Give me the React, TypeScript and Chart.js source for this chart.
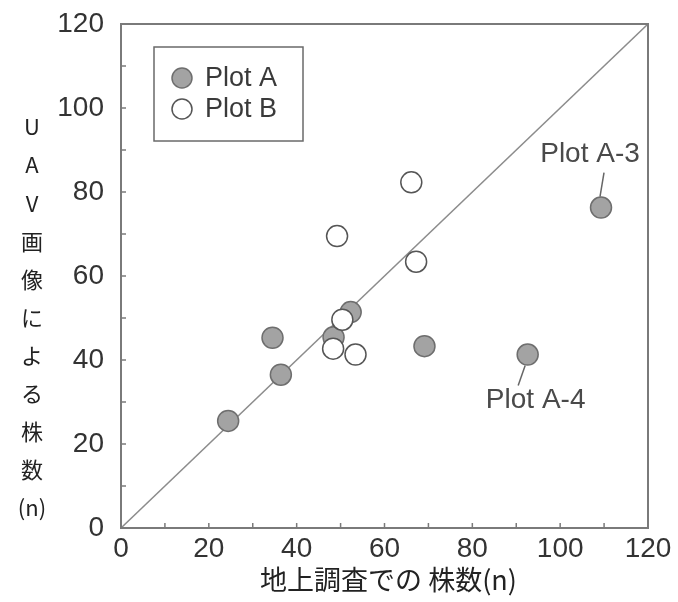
import { useEffect, useRef } from 'react';
import { Chart, registerables } from 'chart.js';

Chart.register(...registerables);

// ---- data ----
const seriesALabel = 'Plot A';
const seriesAX = [24.4, 36.4, 34.5, 48.4, 52.3, 69.1, 92.6, 109.3];
const seriesAY = [25.5, 36.5, 45.3, 45.4, 51.4, 43.3, 41.3, 76.3];

const seriesBLabel = 'Plot B';
const seriesBX = [66.1, 49.2, 67.2, 50.4, 48.3, 53.4];
const seriesBY = [82.3, 69.5, 63.4, 49.6, 42.7, 41.3];

const diagonalX = [0, 120];
const diagonalY = [0, 120];

const axisMin = 0;
const axisMax = 120;
const tickStep = 10;
const labelStep = 20;

const xTitle = '地上調査での 株数(n)';
const yTitleChars = ['U', 'A', 'V', '画', '像', 'に', 'よ', 'る', '株', '数', '(n)'];

const annotatedIndices = [7, 6];
const annotatedTexts = ['Plot A-3', 'Plot A-4'];

const FONT = '"Liberation Sans", Arial, Helvetica, sans-serif';
const CJK = '"Noto Sans CJK JP", "Noto Sans CJK SC", sans-serif';

const fillA = '#a3a3a3';
const borderA = '#6e6e6e';
const fillB = '#ffffff';
const borderB = '#555555';

const framePlugin = {
  id: 'framePlugin',
  beforeDatasetsDraw(chart: any) {
    const { ctx, chartArea } = chart;
    const xs = chart.scales.x;
    const ys = chart.scales.y;
    ctx.save();
    ctx.strokeStyle = '#7a7a7a';
    ctx.lineWidth = 1.5;
    for (let v = axisMin + tickStep; v < axisMax; v += tickStep) {
      const px = xs.getPixelForValue(v);
      ctx.beginPath();
      ctx.moveTo(px, chartArea.bottom);
      ctx.lineTo(px, chartArea.bottom - 5);
      ctx.stroke();
      const py = ys.getPixelForValue(v);
      ctx.beginPath();
      ctx.moveTo(chartArea.left, py);
      ctx.lineTo(chartArea.left + 5, py);
      ctx.stroke();
    }
    ctx.restore();
  },
  afterDatasetsDraw(chart: any) {
    const { ctx, chartArea } = chart;
    ctx.save();
    // frame
    ctx.strokeStyle = '#7a7a7a';
    ctx.lineWidth = 2;
    ctx.strokeRect(chartArea.left, chartArea.top, chartArea.right - chartArea.left, chartArea.bottom - chartArea.top);

    // legend
    const lx = chartArea.left + 33;
    const ly = chartArea.top + 23;
    const lw = 149;
    const lh = 94;
    ctx.fillStyle = '#fff';
    ctx.fillRect(lx, ly, lw, lh);
    ctx.strokeStyle = '#6a6a6a';
    ctx.lineWidth = 1.5;
    ctx.strokeRect(lx, ly, lw, lh);
    const items = [
      { label: seriesALabel, fill: fillA, stroke: borderA },
      { label: seriesBLabel, fill: fillB, stroke: borderB },
    ];
    items.forEach((it, i) => {
      const cy = ly + 31 + i * 31;
      const cx = lx + 28;
      ctx.beginPath();
      ctx.arc(cx, cy, 10, 0, Math.PI * 2);
      ctx.fillStyle = it.fill;
      ctx.fill();
      ctx.lineWidth = 1.5;
      ctx.strokeStyle = it.stroke;
      ctx.stroke();
      ctx.fillStyle = '#3a3a3a';
      ctx.font = `27px ${FONT}`;
      ctx.textAlign = 'left';
      ctx.textBaseline = 'middle';
      ctx.fillText(it.label, lx + 51, cy + 1);
    });

    // annotations
    const meta = chart.getDatasetMeta(0);
    const offsets = [
      { tx: -11, ty: -53, l1x: 3, l1y: -35, l2x: -1, l2y: -11 },
      { tx: 8, ty: 46, l1x: -2.5, l1y: 11, l2x: -9.5, l2y: 31 },
    ];
    annotatedIndices.forEach((idx, k) => {
      const el = meta.data[idx];
      if (!el) return;
      const o = offsets[k];
      ctx.strokeStyle = '#666';
      ctx.lineWidth = 1.5;
      ctx.beginPath();
      ctx.moveTo(el.x + o.l1x, el.y + o.l1y);
      ctx.lineTo(el.x + o.l2x, el.y + o.l2y);
      ctx.stroke();
      ctx.fillStyle = '#4a4a4a';
      ctx.font = `28px ${FONT}`;
      ctx.textAlign = 'center';
      ctx.textBaseline = 'middle';
      ctx.fillText(annotatedTexts[k], el.x + o.tx, el.y + o.ty);
    });
    ctx.restore();
  },
  afterDraw(chart: any) {
    const { ctx, chartArea } = chart;
    ctx.save();
    ctx.fillStyle = '#222';
    ctx.textAlign = 'center';
    ctx.textBaseline = 'middle';
    ctx.font = `27px ${CJK}`;
    ctx.fillText(xTitle, (chartArea.left + chartArea.right) / 2 + 4, 580);
    ctx.font = `22px ${CJK}`;
    yTitleChars.forEach((ch, i) => {
      ctx.fillText(ch, 32, 127 + i * 38.1);
    });
    ctx.restore();
  },
};

export default function App() {
  const ref = useRef<HTMLCanvasElement | null>(null);
  useEffect(() => {
    if (!ref.current) return;
    const chart = new Chart(ref.current, {
      type: 'scatter',
      data: {
        datasets: [
          {
            label: seriesALabel,
            data: seriesAX.map((x, i) => ({ x, y: seriesAY[i] })),
            backgroundColor: fillA,
            borderColor: borderA,
            borderWidth: 1.5,
            pointRadius: 10.5,
            order: 2,
          },
          {
            label: seriesBLabel,
            data: seriesBX.map((x, i) => ({ x, y: seriesBY[i] })),
            backgroundColor: fillB,
            borderColor: borderB,
            borderWidth: 1.5,
            pointRadius: 10.5,
            order: 1,
          },
          {
            type: 'line',
            label: '1:1',
            data: diagonalX.map((x, i) => ({ x, y: diagonalY[i] })),
            borderColor: '#8c8c8c',
            borderWidth: 1.5,
            pointRadius: 0,
            showLine: true,
            fill: false,
            order: 3,
          } as any,
        ],
      },
      options: {
        responsive: false,
        animation: false,
        devicePixelRatio: 1,
        layout: { padding: { top: 23, right: 30, left: 0, bottom: 0 } },
        plugins: { legend: { display: false }, tooltip: { enabled: false } },
        scales: {
          x: {
            type: 'linear',
            min: axisMin,
            max: axisMax,
            grid: { display: false, drawTicks: false },
            border: { display: false },
            ticks: {
              stepSize: tickStep,
              autoSkip: false,
              maxRotation: 0,
              padding: 4,
              color: '#333',
              font: { family: FONT, size: 28 },
              callback: (v: any) => (Number(v) % labelStep === 0 ? String(v) : ''),
            },
            afterFit: (s: any) => {
              s.height = 74;
            },
          },
          y: {
            type: 'linear',
            min: axisMin,
            max: axisMax,
            grid: { display: false, drawTicks: false },
            border: { display: false },
            ticks: {
              stepSize: tickStep,
              autoSkip: false,
              padding: 17,
              color: '#333',
              font: { family: FONT, size: 28, lineHeight: 0.5 },
              callback: (v: any) => (Number(v) % labelStep === 0 ? String(v) : ''),
            },
            afterFit: (s: any) => {
              s.width = 121;
            },
          },
        },
      },
      plugins: [framePlugin],
    });
    return () => chart.destroy();
  }, []);
  return (
    <div style={{ position: 'fixed', left: 0, top: 0, width: 678, height: 602, background: '#fff' }}>
      <canvas ref={ref} width={678} height={602} style={{ display: 'block' }} />
    </div>
  );
}
